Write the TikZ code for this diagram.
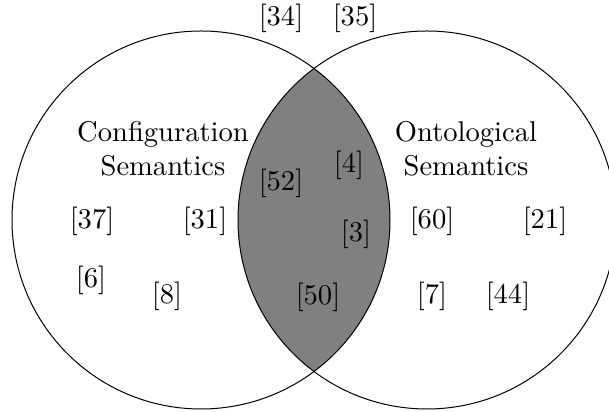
\documentclass[tikz,border=0pt]{standalone}
\usepackage{amssymb,amsmath}
\usepackage{tikz}
\usetikzlibrary{shapes}

\begin{document}
\begin{tikzpicture}[x=0.35pt,y=-0.35pt]
    \tikzstyle{set}=[draw,line width=0.35pt]
    \tikzstyle{ref}=[rectangle,inner sep=0pt]
    \tikzstyle{title}=[rectangle,align=center,inner sep=0pt]
    \useasboundingbox (0,0) rectangle (609,412);
    \clip (0,0) rectangle (609,412);
    \coordinate (conf) at (201,220);
    \coordinate (onto) at (427,220);
    % shared part
    \begin{scope}
      \clip (conf) circle [radius=189];
      \fill[gray] (onto) circle [radius=189];
    \end{scope}
    \draw[set] (conf) circle [radius=189];
    \draw[set] (onto) circle [radius=189];
    \node[title] (confname) at (163,149) {Configuration\\Semantics};
    \node[title] (ontoname) at (466,149) {Ontological\\Semantics};
    % outside
    \node[ref] (r34) at (281,18) {[34]};
    \node[ref] (r35) at (355,18) {[35]};
    % configuration only
    \node[ref] (r37) at (92,221) {[37]};
    \node[ref] (r31) at (205,221) {[31]};
    \node[ref] (r6) at (91,280) {[6]};
    \node[ref] (r8) at (167,296) {[8]};
    % both
    \node[ref] (r52) at (281,183) {[52]};
    \node[ref] (r4) at (349,165) {[4]};
    \node[ref] (r3) at (356,234) {[3]};
    \node[ref] (r50) at (318,297) {[50]};
    % ontological only
    \node[ref] (r60) at (432,221) {[60]};
    \node[ref] (r21) at (545,221) {[21]};
    \node[ref] (r7) at (432,296) {[7]};
    \node[ref] (r44) at (508,296) {[44]};
\end{tikzpicture}
\end{document}
